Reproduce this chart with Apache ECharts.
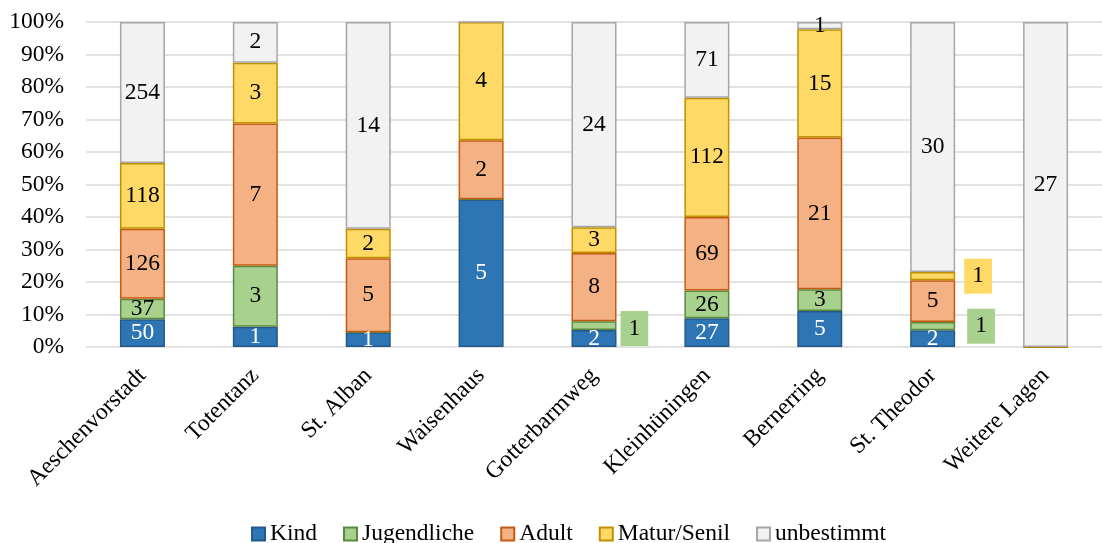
<!DOCTYPE html>
<html>
<head>
<meta charset="utf-8">
<script src="https://cdn.jsdelivr.net/npm/echarts@6/dist/echarts.min.js"></script>
<style>
  html, body { margin: 0; padding: 0; background: #fff; }
  #chart { width: 1102px; height: 543px; }
</style>
</head>
<body>
<div id="chart"></div>
<script>
// Fundorte (Kategorien) und Anzahl Individuen je Altersklasse
const categories = ['Aeschenvorstadt', 'Totentanz', 'St. Alban', 'Waisenhaus', 'Gotterbarmweg', 'Kleinhüningen', 'Bernerring', 'St. Theodor', 'Weitere Lagen'];
const kind        = [50, 1, 1, 5, 2, 27, 5, 2, 0];
const jugendliche = [37, 3, 0, 0, 1, 26, 3, 1, 0];
const adult       = [126, 7, 5, 2, 8, 69, 21, 5, 0];
const maturSenil  = [118, 3, 2, 4, 3, 112, 15, 1, 0];
const unbestimmt  = [254, 2, 14, 0, 24, 71, 1, 30, 27];
const yTicks = [0, 10, 20, 30, 40, 50, 60, 70, 80, 90, 100];

// Labels drawn beside the bar instead of inside: "series:category" -> pixel offset of the label box
const outsideLabels = {
  '1:4': [0, 3],
  '1:7': [8, 0],
  '3:7': [5, 0]
};

const groups = [
  { name: 'Kind',        counts: kind,        fill: '#2E75B6', border: '#25598A', text: '#FFFFFF' },
  { name: 'Jugendliche', counts: jugendliche, fill: '#A9D18E', border: '#5B8A3C', text: '#000000' },
  { name: 'Adult',       counts: adult,       fill: '#F4B183', border: '#C55A11', text: '#000000' },
  { name: 'Matur/Senil', counts: maturSenil,  fill: '#FFD966', border: '#BF9000', text: '#000000' },
  { name: 'unbestimmt',  counts: unbestimmt,  fill: '#F2F2F2', border: '#A6A6A6', text: '#000000' }
];

const totals = categories.map((_, i) => groups.reduce((s, g) => s + g.counts[i], 0));
const FONT = '"Liberation Serif", "Times New Roman", serif';
const FS = 23.5;

const series = groups.map((g, si) => ({
  name: g.name,
  type: 'bar',
  stack: 'total',
  barWidth: 45,
  itemStyle: { color: g.fill, borderColor: g.border, borderWidth: 1.5 },
  data: g.counts.map((c, i) => {
    const item = { value: totals[i] ? c / totals[i] * 100 : 0, count: c };
    const off = outsideLabels[si + ':' + i];
    if (off) {
      item.label = {
        position: 'right',
        distance: 4,
        offset: off,
        color: '#000',
        backgroundColor: g.fill,
        padding: [6, 8, 5, 8]
      };
    }
    return item;
  }),
  label: {
    show: true,
    position: 'inside',
    fontFamily: FONT,
    fontSize: FS,
    color: g.text,
    formatter: p => (p.data.count ? String(p.data.count) : '')
  }
}));

const chart = echarts.init(document.getElementById('chart'));
chart.setOption({
  animation: false,
  backgroundColor: '#fff',
  grid: { left: 86, top: 22, width: 1021, height: 325, containLabel: false },
  legend: {
    bottom: -8,
    left: 246,
    itemWidth: 13,
    itemHeight: 13,
    itemGap: 26,
    icon: 'rect',
    textStyle: { fontFamily: FONT, fontSize: FS, color: '#000' },
    data: groups.map(g => g.name)
  },
  xAxis: {
    type: 'category',
    data: categories,
    axisLine: { show: false },
    axisTick: { show: false },
    axisLabel: {
      interval: 0,
      rotate: 45,
      margin: 25,
      fontFamily: FONT,
      fontSize: FS,
      color: '#000'
    }
  },
  yAxis: {
    type: 'value',
    min: yTicks[0],
    max: yTicks[yTicks.length - 1],
    interval: yTicks[1] - yTicks[0],
    axisLine: { show: false },
    axisTick: { show: false },
    splitLine: { lineStyle: { color: '#D9D9D9', width: 1.5 } },
    axisLabel: {
      margin: 22,
      fontFamily: FONT,
      fontSize: FS,
      color: '#000',
      formatter: '{value}%'
    }
  },
  series: series
});
</script>
</body>
</html>
